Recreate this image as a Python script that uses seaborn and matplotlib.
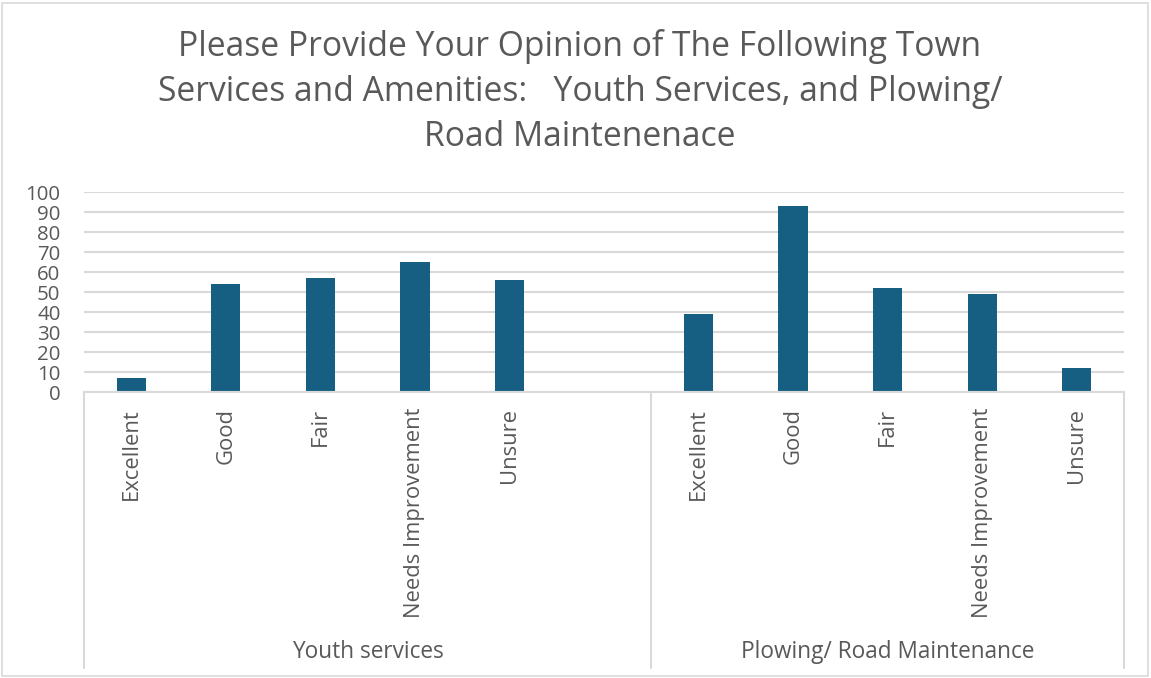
import matplotlib
matplotlib.use("Agg")
import matplotlib.pyplot as plt
import seaborn as sns
import pandas as pd
import numpy as np
from matplotlib.patches import Rectangle

# ---- data ----
ratings = ["Excellent", "Good", "Fair", "Needs Improvement", "Unsure"]
services = ["Youth services", "Plowing/ Road Maintenance"]
youth_values = [7, 54, 57, 65, 56]
plowing_values = [39, 93, 52, 49, 12]
y_ticks = [0, 10, 20, 30, 40, 50, 60, 70, 80, 90, 100]
title_lines = ["Please Provide Your Opinion of The Following Town",
               "Services and Amenities:   Youth Services, and Plowing/",
               "Road Maintenenace"]

# build slots: youth ratings, one blank slot, plowing ratings
keys, vals, labels = [], [], []
for r, v in zip(ratings, youth_values):
    keys.append(f"{services[0]}|{r}"); vals.append(v); labels.append(r)
keys.append(f"{services[0]}|"); vals.append(np.nan); labels.append("")
for r, v in zip(ratings, plowing_values):
    keys.append(f"{services[1]}|{r}"); vals.append(v); labels.append(r)
df = pd.DataFrame({"slot": keys, "value": vals})

sns.set_theme(style="white")
FONT = ["Open Sans", "DejaVu Sans"]
plt.rcParams["font.family"] = FONT

TEXT = "#595959"
GRID = "#d9d9d9"
BAR = "#175f82"

W, H = 1151, 678
fig = plt.figure(figsize=(W / 100, H / 100), dpi=100)
ax_l, ax_r, ax_t, ax_b = 84, 1124, 192, 392
ax = fig.add_axes([ax_l / W, 1 - ax_b / H, (ax_r - ax_l) / W, (ax_b - ax_t) / H])

sns.barplot(data=df, x="slot", y="value", order=keys, color=BAR, width=0.31,
            saturation=1, ax=ax, edgecolor="none")

ax.set_xlim(-0.5, len(keys) - 0.5)
ax.set_ylim(0, 100)
ax.set_yticks(y_ticks)
ax.set_yticklabels([str(t) for t in y_ticks], fontsize=15, color=TEXT)
ax.tick_params(axis="y", length=0, pad=17)
ax.yaxis.grid(True, color=GRID, linewidth=1.5)
ax.set_axisbelow(True)
ax.set_xlabel("")
ax.set_ylabel("")

ax.set_xticks(range(len(keys)))
ax.set_xticklabels(labels, rotation=90, fontsize=15, color=TEXT, va="top")
ax.tick_params(axis="x", length=0, pad=11.5)

for s in ["left", "right", "top"]:
    ax.spines[s].set_visible(False)
ax.spines["bottom"].set_color(GRID)
ax.spines["bottom"].set_linewidth(1.5)

# category dividers
trans = ax.get_xaxis_transform()
y_low = -(668 - ax_b) / (ax_b - ax_t)
for xd in [-0.5, 5.5, 10.5]:
    ax.plot([xd, xd], [0, y_low], transform=trans, color=GRID, lw=1.5,
            clip_on=False)

# group labels
y_grp = -(658 - ax_b) / (ax_b - ax_t)
g1 = ax.text(2.5, y_grp, services[0], transform=trans, ha="center",
             va="baseline", fontsize=16, color=TEXT)
g2 = ax.text(8.0, y_grp, services[1], transform=trans, ha="center",
             va="baseline", fontsize=16, color=TEXT)

# title lines
baselines = [56, 101, 146]
tl = [fig.text(580 / W, 1 - b / H, line, ha="center", va="baseline",
               fontsize=22, color=TEXT) for line, b in zip(title_lines, baselines)]

# chart border
fig.patches.append(Rectangle((2 / W, 2 / H), (W - 5) / W, (H - 5) / H,
                             transform=fig.transFigure, fill=False,
                             edgecolor=GRID, lw=1.2))

# fit font sizes to the reference text extents
fig.canvas.draw()
r = fig.canvas.get_renderer()

def fit_size(t, target, use_height=False):
    for _ in range(3):
        bb = t.get_window_extent(r)
        cur = bb.height if use_height else bb.width
        t.set_fontsize(t.get_fontsize() * target / cur)
    return t.get_fontsize()

s = fit_size(tl[0], 804)
for t in tl:
    t.set_fontsize(s)
s1 = fit_size(g1, 155)
s2 = fit_size(g2, 288)
s = (s1 + s2) / 2
g1.set_fontsize(s)
g2.set_fontsize(s)

xt = [t for t in ax.get_xticklabels() if t.get_text() == "Needs Improvement"][0]
s = fit_size(xt, 210, use_height=True)
for t in ax.get_xticklabels():
    t.set_fontsize(s)
yt = [t for t in ax.get_yticklabels() if t.get_text() == "100"][0]
s = fit_size(yt, 35)
for t in ax.get_yticklabels():
    t.set_fontsize(s)

fig.savefig("out.png", dpi=100)
